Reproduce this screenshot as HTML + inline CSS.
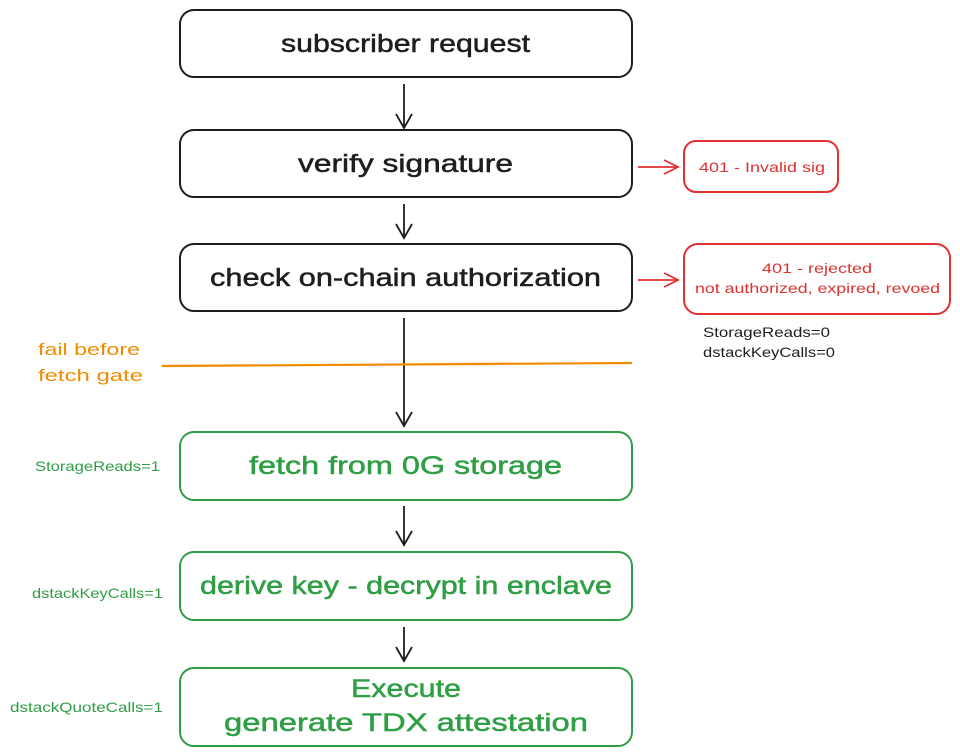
<!DOCTYPE html>
<html><head><meta charset="utf-8"><style>
html,body{margin:0;padding:0;background:#fff;}
svg{display:block;}
text{font-family:"Liberation Sans",sans-serif;}
</style></head><body>
<svg width="960" height="756" viewBox="0 0 960 756" xmlns="http://www.w3.org/2000/svg">
<defs>
<marker id="ak" markerWidth="18" markerHeight="18" refX="15" refY="9" orient="auto" markerUnits="userSpaceOnUse"><path d="M1,1 L15,9 L1,17" fill="none" stroke="#1e1e1e" stroke-width="1.8"/></marker>
<marker id="ar" markerWidth="18" markerHeight="18" refX="15" refY="9" orient="auto" markerUnits="userSpaceOnUse"><path d="M1,2 L15,9 L1,16" fill="none" stroke="#e03131" stroke-width="1.8"/></marker>
</defs>
<g fill="none" stroke-width="2">
<rect x="180" y="10" width="452" height="67" rx="14" stroke="#1e1e1e"/>
<rect x="180" y="130" width="452" height="67" rx="14" stroke="#1e1e1e"/>
<rect x="180" y="244" width="452" height="67" rx="14" stroke="#1e1e1e"/>
<rect x="180" y="432" width="452" height="68" rx="14" stroke="#2f9e44"/>
<rect x="180" y="552" width="452" height="68" rx="14" stroke="#2f9e44"/>
<rect x="180" y="668" width="452" height="78" rx="14" stroke="#2f9e44"/>
<rect x="684" y="141" width="154" height="51" rx="12" stroke="#e03131"/>
<rect x="684" y="244" width="266" height="70" rx="14" stroke="#e03131"/>
</g>
<g stroke="#1e1e1e" stroke-width="1.8">
<line x1="404" y1="84" x2="404" y2="128" marker-end="url(#ak)"/>
<line x1="404" y1="204" x2="404" y2="238" marker-end="url(#ak)"/>
<line x1="404" y1="318" x2="404" y2="426" marker-end="url(#ak)"/>
<line x1="404" y1="506" x2="404" y2="545" marker-end="url(#ak)"/>
<line x1="404" y1="627" x2="404" y2="661" marker-end="url(#ak)"/>
</g>
<g stroke="#e03131" stroke-width="1.8">
<line x1="638" y1="167" x2="678" y2="167" marker-end="url(#ar)"/>
<line x1="638" y1="280" x2="678" y2="280" marker-end="url(#ar)"/>
</g>
<line x1="162" y1="366" x2="632" y2="363" stroke="#f08c00" stroke-width="2.2"/>
<g font-size="25" fill="#1e1e1e" stroke="#1e1e1e" stroke-width="0.5" lengthAdjust="spacingAndGlyphs">
<text x="281" y="52" textLength="249" lengthAdjust="spacingAndGlyphs">subscriber request</text>
<text x="298" y="172" textLength="215" lengthAdjust="spacingAndGlyphs">verify signature</text>
<text x="210" y="286" textLength="391" lengthAdjust="spacingAndGlyphs">check on-chain authorization</text>
</g>
<g font-size="25" fill="#2f9e44" stroke="#2f9e44" stroke-width="0.5">
<text x="249" y="474" textLength="313" lengthAdjust="spacingAndGlyphs">fetch from 0G storage</text>
<text x="200" y="594" textLength="412" lengthAdjust="spacingAndGlyphs">derive key - decrypt in enclave</text>
<text x="351" y="697" textLength="110" lengthAdjust="spacingAndGlyphs">Execute</text>
<text x="224" y="731" textLength="364" lengthAdjust="spacingAndGlyphs">generate TDX attestation</text>
</g>
<g font-size="14" fill="#e03131">
<text x="699" y="172" textLength="126" lengthAdjust="spacingAndGlyphs">401 - Invalid sig</text>
<text x="762" y="273" textLength="110" lengthAdjust="spacingAndGlyphs">401 - rejected</text>
<text x="695" y="293" textLength="245" lengthAdjust="spacingAndGlyphs">not authorized, expired, revoed</text>
</g>
<g font-size="14" fill="#1e1e1e">
<text x="703" y="337" textLength="127" lengthAdjust="spacingAndGlyphs">StorageReads=0</text>
<text x="703" y="357" textLength="132" lengthAdjust="spacingAndGlyphs">dstackKeyCalls=0</text>
</g>
<g font-size="17" fill="#f08c00">
<text x="38" y="355" textLength="102" lengthAdjust="spacingAndGlyphs">fail before</text>
<text x="38" y="381" textLength="105" lengthAdjust="spacingAndGlyphs">fetch gate</text>
</g>
<g font-size="14" fill="#2f9e44">
<text x="35" y="471" textLength="125" lengthAdjust="spacingAndGlyphs">StorageReads=1</text>
<text x="32" y="598" textLength="131" lengthAdjust="spacingAndGlyphs">dstackKeyCalls=1</text>
<text x="10" y="712" textLength="153" lengthAdjust="spacingAndGlyphs">dstackQuoteCalls=1</text>
</g>
</svg>
</body></html>
